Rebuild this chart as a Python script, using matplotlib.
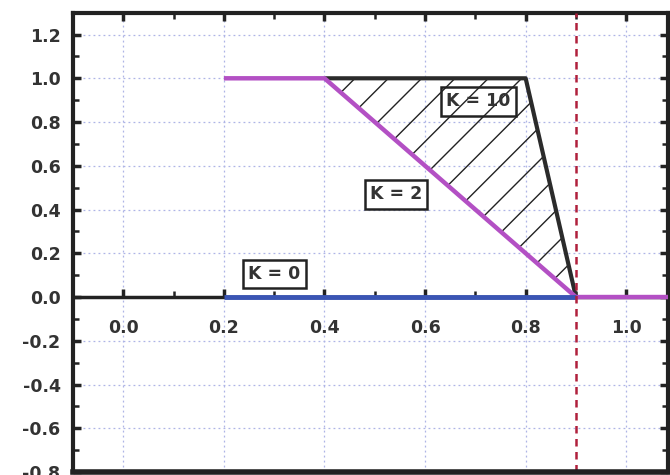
import matplotlib
matplotlib.use("Agg")
import matplotlib.pyplot as plt
from matplotlib.patches import Polygon
from matplotlib.ticker import MultipleLocator
import numpy as np

# K = 2 curve (magenta)
k2_x = [0.2, 0.4, 0.9, 1.1]
k2_y = [1.0, 1.0, 0.0, 0.0]
# K = 10 curve (black)
k10_x = [0.4, 0.8, 0.9]
k10_y = [1.0, 1.0, 0.0]
# K = 0 curve (blue)
k0_x = [0.2, 0.9]
k0_y = [0.0, 0.0]
# hatched area between K=2 and K=10
hatch_x = [0.4, 0.8, 0.9]
hatch_y = [1.0, 1.0, 0.0]
x_cut = 0.9

labels = ["K = 10", "K = 2", "K = 0"]
label_x = [0.706, 0.542, 0.300]
label_y = [0.894, 0.469, 0.106]

fig = plt.figure(figsize=(6.7, 4.75), dpi=100)
ax = fig.add_axes([0.109, 0.0063, 0.888, 0.967])
ax.set_xlim(-0.1, 1.083)
ax.set_ylim(-0.8, 1.3)

ax.xaxis.set_minor_locator(MultipleLocator(0.1))
ax.yaxis.set_minor_locator(MultipleLocator(0.1))

ax.grid(True, which="major", color="#aeb4e6", linestyle=(0, (1.5, 2.5)), lw=0.9)

# x axis drawn at y = 0, frame line at the bottom
ax.spines["bottom"].set_position(("data", 0))
ax.spines["bottom"].set_linewidth(2.5)
ax.spines["bottom"].set_color("#222222")
for s in ["left", "top", "right"]:
    ax.spines[s].set_linewidth(3)
    ax.spines[s].set_color("#222222")
ax.axhline(-0.8, color="#222222", lw=4, clip_on=False, zorder=5)

ax.tick_params(which="both", direction="in", top=True, right=True, color="#222222")
ax.tick_params(which="major", length=6, width=2.5)
ax.tick_params(which="minor", length=4, width=1.8)
ax.tick_params(axis="x", which="major", pad=16)
ax.tick_params(axis="y", which="major", pad=9)

ticks_x = np.round(np.arange(0.0, 1.01, 0.2), 1)
ax.set_xticks(ticks_x)
ax.set_xticklabels([f"{abs(t) if t == 0 else t:.1f}" for t in ticks_x])
ticks_y = np.round(np.arange(-0.8, 1.21, 0.2), 1)
ax.set_yticks(ticks_y)
ax.set_yticklabels([f"{abs(t) if t == 0 else t:.1f}" for t in ticks_y])
for lab in ax.get_xticklabels() + ax.get_yticklabels():
    lab.set_fontsize(12.5)
    lab.set_fontweight("bold")
    lab.set_color("#333333")

# hatched region
ax.add_patch(Polygon(list(zip(hatch_x, hatch_y)), closed=True, facecolor="none",
                     edgecolor="#222222", hatch="/", lw=0, zorder=2))

ax.plot(k10_x, k10_y, color="#2b2b2b", lw=3, zorder=3, solid_capstyle="butt")
ax.plot(k2_x, k2_y, color="#b350c4", lw=3.2, zorder=4, solid_capstyle="butt")
ax.plot(k0_x, k0_y, color="#3a55b4", lw=3.5, zorder=4, solid_capstyle="butt")
ax.axvline(x_cut, color="#b0203c", lw=1.8, dashes=(3, 2.2), zorder=4)

for txt, x, y in zip(labels, label_x, label_y):
    fc = "none" if txt == "K = 10" else "white"
    ax.text(x, y, txt, ha="center", va="center", fontsize=12.5, fontweight="bold",
            color="#333333", zorder=6,
            bbox=dict(boxstyle="square,pad=0.3", facecolor=fc, edgecolor="#222222", lw=1.8))

fig.savefig("out.png", dpi=100)
